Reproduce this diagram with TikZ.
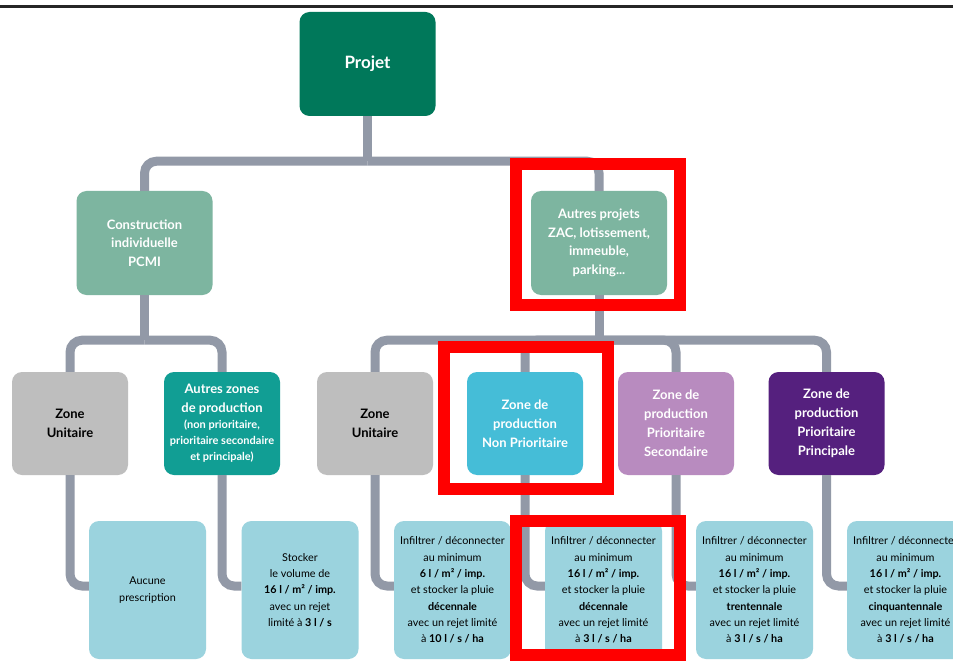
\documentclass[tikz,border=0pt]{standalone}
\usepackage{fontspec}
\setmainfont{Lato}
\usepackage{xcolor}
\usepackage{tikz}
\usetikzlibrary{positioning}
\definecolor{projetGreen}{HTML}{00785A}
\definecolor{typeGreen}{HTML}{7DB5A0}
\definecolor{zoneGray}{HTML}{BEBEBE}
\definecolor{zoneTeal}{HTML}{119E94}
\definecolor{zoneCyan}{HTML}{45BDD7}
\definecolor{zoneLilac}{HTML}{B88BBF}
\definecolor{zonePurple}{HTML}{55207E}
\definecolor{prescBlue}{HTML}{9BD3DE}
\definecolor{linkGray}{HTML}{9299A7}
\definecolor{hiliteRed}{HTML}{FF0000}

\begin{document}
\begin{tikzpicture}[
    x=1pt, y=-1pt,
    box/.style={
      rectangle, rounded corners=10pt, align=center, inner sep=2pt
    },
    projbox/.style={box, fill=projetGreen, text=white,
      minimum width=136pt, minimum height=104pt,
      font=\fontsize{17}{20}\selectfont\bfseries},
    typebox/.style={box, fill=typeGreen, text=white,
      minimum width=136pt, minimum height=104pt,
      font=\fontsize{13}{18.5}\selectfont\bfseries},
    zonebox/.style={box, text=white,
      minimum width=116pt, minimum height=103pt,
      font=\fontsize{13}{19}\selectfont\bfseries},
    prescbox/.style={box, fill=prescBlue, text=black,
      minimum width=117pt, minimum height=138pt,
      font=\fontsize{10.8}{16.3}\selectfont},
    link/.style={line width=9pt, linkGray, rounded corners=12pt},
    hilite/.style={line width=12pt, hiliteRed},
  ]

  %% ── Frame ──
  \fill[white] (0,0) rectangle (953,663);
  \useasboundingbox (0,0) rectangle (953,663);
  \clip (0,0) rectangle (953,663);
  \draw[line width=2.5pt, black!85] (0,6.5) -- (953,6.5);

  %% ── Level 0 ──
  \node[projbox] (projet) at (367.5,64) {Projet};

  %% ── Level 1 ──
  \node[typebox] (pcmi)   at (144.5,243) {Construction\\individuelle\\PCMI};
  \node[typebox] (autres) at (599,243)   {Autres projets\\ZAC, lotissement,\\immeuble,\\parking...};

  %% ── Level 2 ──
  \node[zonebox, fill=zoneGray, text=black] (zu1) at (70,423.5)  {Zone\\Unitaire};
  \node[zonebox, fill=zoneTeal] (azp) at (222,423.5)
    {Autres zones\\de production\\[-3pt]{\fontsize{11}{15.5}\selectfont(non prioritaire,}\\[-3pt]{\fontsize{11}{15.5}\selectfont prioritaire secondaire}\\[-3pt]{\fontsize{11}{15.5}\selectfont et principale)}};
  \node[zonebox, fill=zoneGray, text=black] (zu2) at (375,423.5)   {Zone\\Unitaire};
  \node[zonebox, fill=zoneCyan]   (znp) at (525,423.5)   {Zone de\\production\\Non Prioritaire};
  \node[zonebox, fill=zoneLilac]  (zps) at (676,423.5)   {Zone de\\production\\Prioritaire\\Secondaire};
  \node[zonebox, fill=zonePurple] (zpp) at (826.5,423.5) {Zone de\\production\\Prioritaire\\Principale};

  %% ── Level 3 (prescriptions) ──
  \node[prescbox] (aucune)  at (147.5,590) {Aucune\\prescription};
  \node[prescbox] (stocker) at (300,590)
    {Stocker\\le volume de\\\textbf{16 l / m² / imp.}\\avec un rejet\\limité à \textbf{3 l / s}};
  \node[prescbox] (inf10) at (452.5,590)
    {Infiltrer / déconnecter\\au minimum\\\textbf{6 l / m² / imp.}\\et stocker la pluie\\\textbf{décennale}\\avec un rejet limité\\à \textbf{10 l / s / ha}};
  \node[prescbox] (inf16d) at (603.5,590)
    {Infiltrer / déconnecter\\au minimum\\\textbf{16 l / m² / imp.}\\et stocker la pluie\\\textbf{décennale}\\avec un rejet limité\\à \textbf{3 l / s / ha}};
  \node[prescbox] (inf16t) at (754.5,590)
    {Infiltrer / déconnecter\\au minimum\\\textbf{16 l / m² / imp.}\\et stocker la pluie\\\textbf{trentennale}\\avec un rejet limité\\à \textbf{3 l / s / ha}};
  \node[prescbox] (inf16c) at (905.5,590)
    {Infiltrer / déconnecter\\au minimum\\\textbf{16 l / m² / imp.}\\et stocker la pluie\\\textbf{cinquantennale}\\avec un rejet limité\\à \textbf{3 l / s / ha}};

  %% ── Tree links ──
  \draw[link] (projet.south) -- ++(0,45) coordinate (j0);
  \draw[link] (j0) -| (pcmi.north);
  \draw[link] (j0) -| (autres.north);

  \draw[link] (pcmi.south) -- ++(0,45) coordinate (j1);
  \draw[link] (j1) -| (zu1.north);
  \draw[link] (j1) -| (azp.north);

  \draw[link] (autres.south) -- ++(0,45) coordinate (j2);
  \draw[link] (j2) -| (zu2.north);
  \draw[link] (j2) -| (znp.north);
  \draw[link] (j2) -| (zps.north);
  \draw[link] (j2) -| (zpp.north);

  \draw[link] (zu1.south) |- ([yshift=4pt]aucune.west);
  \draw[link] (azp.south) |- ([yshift=4pt]stocker.west);
  \draw[link] (zu2.south) |- ([yshift=4pt]inf10.west);
  \draw[link] (znp.south) |- ([yshift=4pt]inf16d.west);
  \draw[link] (zps.south) |- ([yshift=4pt]inf16t.west);
  \draw[link] (zpp.south) |- ([yshift=4pt]inf16c.west);

  %% ── Red highlights ──
  \draw[hilite] (516,164) rectangle (680,305);
  \draw[hilite] (444,347) rectangle (608,489);
  \draw[hilite] (516,521) rectangle (680,655);

\end{tikzpicture}
\end{document}
